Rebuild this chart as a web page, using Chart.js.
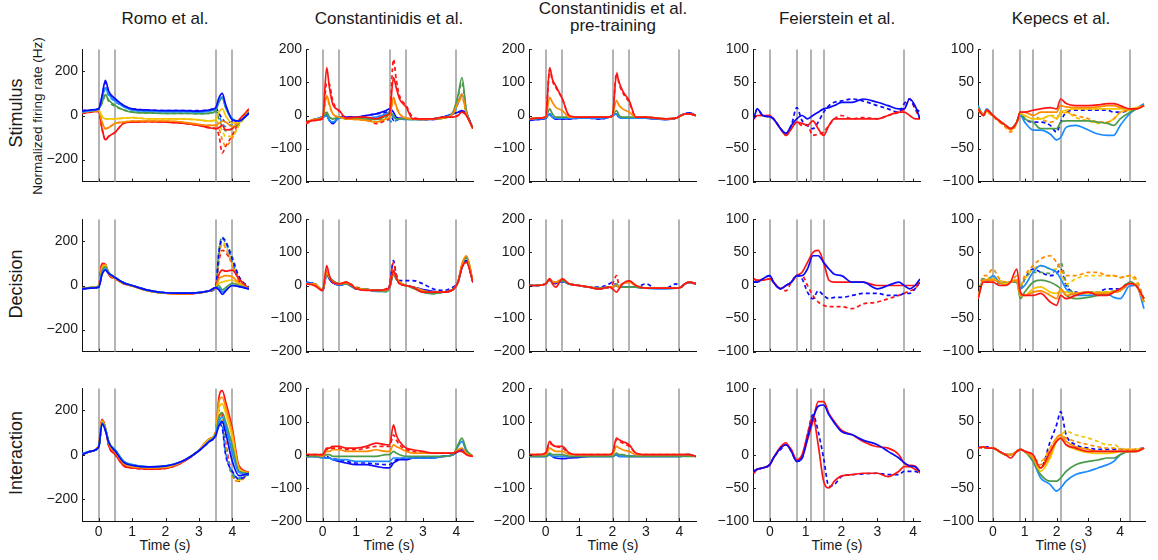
<!DOCTYPE html>
<html lang="en">
<head>
<meta charset="UTF-8" />
<title>Population responses by task</title>
<script src="https://cdn.jsdelivr.net/npm/chart.js"></script>
<style>
    body {
        margin: 0;
        background: #fff;
        font-family: 'Liberation Sans', Arial, sans-serif;
        color: #1a1a1a;
    }
    #figure {
        position: relative;
        width: 1158px;
        height: 560px;
        overflow: hidden;
    }
    .title {
        position: absolute;
        transform: translateX(-50%);
        font-size: 17px;
        line-height: 17px;
        text-align: center;
        white-space: nowrap;
    }
    .rowlabel {
        position: absolute;
        transform: translate(-50%, -50%) rotate(-90deg);
        font-size: 18px;
        white-space: nowrap;
    }
    .ylabel {
        position: absolute;
        transform: translate(-50%, -50%) rotate(-90deg);
        font-size: 13.5px;
        white-space: nowrap;
    }
    .xlabel {
        position: absolute;
        transform: translateX(-50%);
        font-size: 14px;
        line-height: 16px;
        white-space: nowrap;
    }
</style>
</head>
<body>
<div id="figure">
    <div class="title" style="left:165px;top:10px">Romo et al.</div>
    <div class="title" style="left:389px;top:10px">Constantinidis et al.</div>
    <div class="title" style="left:613px;top:0px">Constantinidis et al.<br>pre-training</div>
    <div class="title" style="left:837px;top:10px">Feierstein et al.</div>
    <div class="title" style="left:1061px;top:10px">Kepecs et al.</div>

    <div class="rowlabel" style="left:16px;top:113px">Stimulus</div>
    <div class="rowlabel" style="left:16px;top:284px">Decision</div>
    <div class="rowlabel" style="left:16px;top:453px">Interaction</div>
    <div class="ylabel" style="left:37px;top:116px">Normalized firing rate (Hz)</div>

    <div class="xlabel" style="left:165px;top:537px">Time (s)</div>
    <div class="xlabel" style="left:389px;top:537px">Time (s)</div>
    <div class="xlabel" style="left:613px;top:537px">Time (s)</div>
    <div class="xlabel" style="left:837px;top:537px">Time (s)</div>
    <div class="xlabel" style="left:1061px;top:537px">Time (s)</div>
</div>

<script>
    // ---- time grids (s) ----
    const romoTime = [-0.5, -0.25, 0, 0.1, 0.2, 0.3, 0.5, 0.75, 1, 1.5, 2, 2.5, 3, 3.3, 3.5, 3.6, 3.7, 3.8, 4, 4.2, 4.5];
    const constTime = [-0.5, -0.25, 0, 0.12, 0.2, 0.3, 0.5, 0.7, 1, 1.3, 1.6, 1.9, 2, 2.12, 2.2, 2.3, 2.5, 2.7, 3, 3.3, 3.6, 3.9, 4.05, 4.17, 4.3, 4.5];
    const feierTime = [-0.45, -0.35, -0.2, 0, 0.1, 0.3, 0.45, 0.6, 0.75, 0.9, 1.05, 1.2, 1.35, 1.5, 1.65, 1.8, 2, 2.3, 2.6, 3, 3.3, 3.6, 3.75, 3.9, 4.05, 4.19];
    const kepecsTime = [-0.47, -0.3, -0.2, 0, 0.2, 0.4, 0.55, 0.75, 0.86, 1, 1.26, 1.5, 1.8, 2, 2.13, 2.3, 2.6, 3, 3.3, 3.6, 3.8, 4, 4.31, 4.5, 4.75];

    // ---- Romo: blue, light blue, green, yellow, orange, red ----
    const romoStimSolid = [
        [20, 25, 30, 90, 160, 110, 75, 45, 30, 25, 22, 22, 20, 25, 35, 80, 100, 50, -20, -25, 10],
        [15, 22, 28, 80, 125, 95, 65, 40, 25, 20, 18, 18, 15, 20, 30, 65, 85, 40, -15, -25, 10],
        [20, 22, 30, 60, 95, 70, 45, 25, 15, 12, 10, 10, 8, 10, 20, 60, 80, 35, -15, -25, 15],
        [18, 20, 25, -5, -15, -15, -15, -12, -10, -15, -15, -15, -20, -25, -20, 15, 30, 0, -35, -30, 15],
        [15, 20, 22, -30, -60, -55, -35, -30, -25, -25, -25, -30, -40, -45, -45, -35, -25, -30, -50, -30, 20],
        [10, 15, 20, -60, -110, -95, -75, -35, -30, -28, -30, -35, -45, -55, -60, -55, -45, -65, -60, -20, 30]
    ];
    const romoStimDashed = [
        [22, 25, 30, 85, 150, 105, 70, 45, 30, 25, 22, 22, 22, 25, 35, 10, -15, -30, -30, -25, 10],
        [18, 22, 28, 75, 120, 90, 62, 40, 25, 20, 18, 18, 15, 20, 30, 0, -35, -50, -40, -30, 10],
        [18, 22, 30, 55, 90, 65, 40, 25, 15, 12, 10, 10, 8, 10, 20, -15, -50, -70, -60, -35, 15],
        [18, 20, 25, -5, -15, -15, -15, -12, -10, -15, -15, -15, -20, -25, -20, -40, -70, -95, -95, -45, 15],
        [15, 20, 22, -30, -60, -55, -35, -30, -25, -25, -25, -30, -40, -45, -45, -60, -110, -140, -100, -40, 20],
        [10, 15, 20, -60, -110, -95, -75, -35, -30, -28, -30, -35, -45, -55, -60, -90, -170, -140, -90, -30, 30]
    ];
    const romoDecSolid = [
        [-15, -12, -8, 50, 70, 55, 35, 12, 0, -22, -33, -35, -32, -25, -10, -20, -40, -25, 0, -5, -15],
        [-18, -12, -8, 55, 75, 55, 35, 12, 0, -22, -33, -35, -32, -25, -10, -10, -30, -20, 0, -5, -15],
        [-15, -10, -5, 65, 85, 60, 35, 12, 0, -23, -34, -35, -33, -25, -10, 0, -20, -10, 10, 0, -15],
        [-15, -10, -5, 75, 90, 55, 32, 10, 0, -24, -35, -36, -33, -25, -10, 10, 15, 20, 25, 5, -15],
        [-15, -10, -5, 85, 95, 55, 30, 10, -2, -25, -35, -37, -33, -25, -10, 30, 40, 45, 40, 10, -15],
        [-15, -10, -3, 100, 95, 50, 30, 8, -2, -25, -35, -38, -34, -25, -8, 50, 70, 65, 70, 30, -15]
    ];
    const romoDecDashed = [
        [-15, -12, -8, 55, 70, 55, 35, 12, 0, -22, -33, -35, -32, -25, -10, 150, 215, 200, 120, 40, -10],
        [-15, -12, -8, 55, 72, 55, 35, 12, 0, -22, -33, -35, -32, -25, -10, 150, 210, 195, 110, 35, -10],
        [-15, -10, -5, 65, 85, 60, 35, 12, 0, -23, -34, -35, -33, -25, -10, 160, 220, 200, 130, 40, -10],
        [-15, -10, -5, 75, 90, 55, 32, 10, 0, -24, -35, -36, -33, -25, -10, 140, 200, 180, 100, 30, -15],
        [-15, -10, -5, 85, 95, 55, 30, 10, -2, -25, -35, -37, -33, -25, -10, 130, 190, 170, 90, 25, -15],
        [-15, -10, -3, 100, 95, 50, 30, 8, -2, -25, -35, -38, -34, -25, -8, 110, 160, 150, 100, 20, -15]
    ];
    const romoIntSolid = [
        [0, 15, 35, 140, 110, 55, 15, -35, -48, -55, -52, -30, 18, 58, 85, 130, 150, 100, -30, -95, -85],
        [5, 15, 35, 140, 115, 55, 20, -30, -45, -55, -50, -30, 18, 60, 90, 150, 170, 130, 10, -80, -90],
        [0, 15, 35, 145, 120, 60, 20, -30, -45, -55, -52, -30, 18, 62, 95, 170, 190, 150, 40, -75, -85],
        [0, 15, 40, 150, 120, 55, 15, -35, -50, -58, -55, -30, 20, 68, 100, 210, 230, 190, 80, -65, -85],
        [0, 15, 40, 155, 120, 50, 10, -40, -55, -60, -58, -32, 20, 70, 100, 240, 260, 215, 100, -60, -80],
        [0, 15, 40, 160, 120, 40, 0, -50, -60, -65, -62, -35, 20, 70, 100, 260, 290, 240, 120, -50, -80]
    ];
    const romoIntDashed = [
        [0, 15, 35, 140, 110, 55, 15, -35, -48, -55, -52, -30, 18, 58, 85, 140, 120, 0, -75, -110, -90],
        [5, 15, 35, 140, 115, 55, 20, -30, -45, -55, -50, -30, 18, 60, 90, 150, 130, 10, -80, -105, -85],
        [0, 15, 35, 145, 120, 60, 20, -30, -45, -55, -52, -30, 18, 62, 95, 160, 140, 20, -90, -110, -85],
        [0, 15, 40, 150, 120, 55, 15, -35, -50, -58, -55, -30, 20, 68, 95, 170, 150, 30, -95, -115, -85],
        [0, 15, 40, 155, 120, 50, 10, -40, -55, -60, -58, -32, 20, 70, 100, 180, 160, 40, -100, -120, -80],
        [0, 15, 40, 160, 120, 40, 0, -50, -60, -65, -62, -35, 20, 70, 100, 200, 180, 60, -90, -120, -80]
    ];

    // ---- Constantinidis: red, orange, green, light blue, blue ----
    const constStimSolid = [
        [-20, -15, -8, 145, 85, 35, 15, -8, -5, -5, -10, 0, 5, 115, 85, 50, 25, -10, -10, -10, -5, -5, 0, 10, 0, -40],
        [-20, -12, -5, 60, 35, 5, -5, -10, -12, -15, -20, -10, -5, 55, 30, 5, -8, -10, -12, -10, -8, 5, 40, 65, 5, -40],
        [-20, -12, -5, 10, -5, -10, -5, -10, -10, -10, -12, 0, 10, 0, -10, -10, -10, -12, -12, -10, -8, 10, 60, 115, 15, -40],
        [-20, -12, -5, 0, -15, -20, -8, -8, -10, -8, -5, 5, 10, -5, -10, -10, -12, -12, -12, -10, -5, 5, 40, 65, 10, -40],
        [-20, -12, -5, 0, -15, -25, -5, -5, -5, 0, 5, 15, 20, 10, -5, -8, -10, -10, -12, -12, -5, 5, 10, 15, 5, -40]
    ];
    const constStimDashed = [
        [-25, -15, -10, 100, 95, 45, 12, -5, -5, -5, -25, -15, -5, 170, 110, 60, 30, -5, -10, -10, -5, -5, 0, 10, 0, -40],
        [-20, -12, -5, 55, 30, 5, -5, -10, -12, -15, -20, -12, -5, 45, 25, 5, -8, -10, -12, -10, -8, 5, 35, 55, 5, -40],
        [-20, -12, -5, 5, -5, -10, -5, -10, -10, -10, -12, -5, 5, -5, -10, -10, -10, -12, -12, -10, -8, 10, 55, 100, 15, -40],
        [-20, -12, -5, 0, -15, -20, -8, -8, -10, -8, -5, 0, -15, -20, -15, -10, -12, -12, -12, -10, -5, 5, 35, 60, 10, -40],
        [-20, -12, -5, 0, -15, -20, -5, -5, -5, 0, 5, 10, 15, -15, -15, -10, -10, -10, -12, -12, -5, 5, 10, 12, 5, -40]
    ];
    const constDecSolid = [
        [5, 0, -15, 60, 30, 10, 5, 10, -10, -15, -15, -12, -5, 45, 25, 5, 0, -5, -20, -20, -20, -12, 10, 55, 70, 10],
        [5, 5, -15, 40, 25, 12, 5, 8, -8, -12, -15, -15, -5, 40, 25, 10, 0, -5, -15, -20, -20, -12, 10, 65, 90, 12],
        [5, 5, -15, 35, 25, 15, 5, 5, -8, -12, -15, -18, -5, 35, 20, 10, 0, -8, -20, -25, -20, -12, 10, 60, 85, 10],
        [8, 5, -15, 35, 25, 10, 2, 5, -10, -12, -18, -18, -8, 35, 22, 8, 0, -5, -15, -20, -20, -12, 10, 60, 85, 10],
        [10, 5, -15, 35, 20, 8, 2, 5, -10, -12, -15, -15, -5, 35, 22, 8, 0, -5, -12, -18, -20, -12, 10, 55, 75, 10]
    ];
    const constDecDashed = [
        [5, 0, -15, 45, 25, 10, 5, 10, -5, -12, -15, -10, 0, 70, 30, 5, 0, -5, -15, -20, -20, -12, 10, 55, 75, 10],
        [5, 5, -15, 40, 25, 12, 5, 8, -8, -12, -15, -15, -5, 45, 25, 10, 0, -5, -15, -20, -20, -12, 10, 65, 88, 12],
        [5, 5, -15, 35, 25, 12, 5, 5, -8, -12, -15, -18, -5, 40, 20, 10, 0, -8, -20, -25, -20, -12, 10, 60, 85, 10],
        [5, 5, -15, 30, 25, 10, 2, 5, -10, -12, -18, -18, -8, 40, 22, 8, 0, -5, -15, -20, -20, -12, 10, 60, 85, 10],
        [5, 5, -15, 35, 20, 8, 2, 5, -10, -12, -15, -15, 0, 75, 35, 15, 15, 15, 5, -10, -15, -5, 10, 55, 75, 10]
    ];
    const constIntSolid = [
        [0, 0, 0, 20, 20, 25, 25, 20, 20, 25, 35, 30, 30, 90, 60, 40, 20, 15, 10, 5, 5, 5, 10, 10, 0, -5],
        [0, 0, -5, 10, 10, 15, 15, 10, 10, 10, 15, 10, 10, 30, 25, 20, 10, 5, 5, 5, 5, 5, 15, 20, 5, -5],
        [-5, -5, -5, 0, 0, -5, -5, -5, -5, -5, -5, 0, 0, 10, 5, 0, -5, -5, -5, -5, -5, 0, 30, 50, 15, -5],
        [-5, -5, -10, -10, -10, -15, -15, -15, -20, -20, -20, -20, -20, -10, -10, -10, -10, -10, -10, -10, -5, 0, 25, 40, 10, -5],
        [-5, -5, -5, -10, -10, -15, -20, -25, -30, -30, -35, -40, -40, -25, -20, -15, -15, -10, -10, -10, -5, 0, 10, 15, 5, -5]
    ];
    const constIntDashed = [
        [0, 0, 0, 15, 20, 20, 20, 15, 15, 20, 25, 25, 25, 60, 45, 30, 15, 10, 5, 5, 5, 5, 10, 10, 0, -5],
        [-5, -5, -5, -5, -10, -12, -15, -20, -25, -25, -28, -30, -30, -20, -15, -12, -12, -10, -8, -8, -5, 0, 10, 12, 5, -5]
    ];

    // ---- Constantinidis pre-training: red, orange, green, light blue, blue ----
    const preStimSolid = [
        [-10, -8, -5, 145, 110, 90, 50, 0, -5, -5, -5, -5, 0, 125, 100, 75, 45, -5, -5, -8, -10, -8, 0, 5, 5, 0],
        [-10, -8, -5, 55, 40, 25, 15, -5, -5, -5, -5, -5, 0, 45, 30, 20, 10, -5, -5, -8, -10, -8, 0, 5, 5, 0],
        [-10, -8, -5, 20, 5, -5, -5, -5, -5, -5, -5, -5, 0, 15, 0, -5, -5, -5, -5, -8, -10, -8, 0, 5, 5, 0],
        [-12, -10, -8, 5, -5, -8, -8, -8, -8, -8, -8, -5, 0, 5, -5, -8, -8, -8, -8, -10, -12, -8, 0, 5, 5, 0],
        [-15, -12, -8, 5, -5, -10, -10, -10, -8, -8, -10, -5, 0, 5, -5, -8, -8, -8, -8, -10, -12, -8, 0, 5, 8, 0]
    ];
    const preStimDashed = [
        [-10, -8, -5, 140, 105, 85, 50, 0, -5, -5, -5, -5, 0, 130, 95, 70, 40, -5, -5, -8, -10, -8, 0, 5, 5, 0],
        [-12, -12, -8, 3, -5, -10, -10, -10, -8, -8, -10, -5, 0, 3, -5, -8, -8, -8, -8, -10, -12, -8, 0, 5, 8, 0]
    ];
    const preDecSolid = [
        [0, 0, 5, 20, 5, -5, 20, 5, 0, -5, -10, -5, -10, -20, -10, 5, 15, 0, -8, -8, -8, -8, -5, 5, 10, 5],
        [0, 0, 5, 20, 12, 10, 20, 5, 0, -5, -10, -5, -5, 0, -5, 5, 10, 0, -8, -8, -8, -8, -5, 5, 10, 5],
        [0, 0, 5, 18, 12, 10, 15, 5, 0, -5, -8, -5, -5, 5, -5, -5, -5, -5, -8, -8, -8, -8, -5, 5, 10, 5],
        [0, 0, 5, 15, 12, 10, 12, 5, 0, -5, -8, -5, -5, 0, -5, -5, -5, -5, -8, -10, -10, -8, -5, 5, 8, 5],
        [0, 0, 5, 18, 10, 8, 12, 5, 0, -5, -10, -5, -5, 0, -5, -5, -5, -5, -8, -8, -8, -8, -5, 5, 10, 5]
    ];
    const preDecDashed = [
        [0, 0, 5, 20, 10, 5, 15, 5, 0, -5, -10, -5, 5, 30, 0, 5, 10, 0, -8, -8, -8, -8, -5, 5, 10, 5],
        [0, 0, 5, 18, 10, 8, 12, 5, 0, -5, -5, 5, 10, 0, -5, -5, -5, -5, 5, -8, -8, 5, -5, 5, 10, 5]
    ];
    const preIntSolid = [
        [0, 0, 5, 40, 30, 25, 25, 5, 0, 0, 0, 0, 5, 50, 45, 40, 30, 5, 0, 0, 0, 0, 0, 0, 0, -5],
        [0, 0, 0, 20, 15, 10, 10, 0, 0, 0, 0, 0, 0, 25, 20, 15, 10, 0, 0, 0, 0, 0, 0, 0, 0, -5],
        [-5, -5, -5, 5, 0, 0, 0, -5, -5, -5, -5, -5, -5, 5, 0, 0, -5, -5, -5, -5, -5, -5, -5, -5, -5, -5],
        [-5, -5, -5, 0, -5, -5, -5, -5, -5, -5, -5, -5, -5, 0, -5, -5, -5, -5, -5, -5, -5, -5, -5, 0, 0, -5],
        [-5, -5, -5, 0, -5, -10, -12, -10, -8, -5, -5, -5, -5, 0, -5, -5, -5, -5, -5, -5, -5, -5, -5, 0, 0, -5]
    ];
    const preIntDashed = [
        [0, 0, 5, 35, 30, 25, 20, 5, 0, 0, 0, 0, 5, 45, 40, 35, 25, 5, 0, 0, 0, 0, 0, 0, 0, -5]
    ];

    // ---- Feierstein: blue, red ----
    const feierStimSolid = [
        [-5, 10, 0, -2, -5, -20, -27, -15, -5, 0, -5, 0, 5, 10, 12, 15, 20, 20, 25, 20, 15, 10, 10, 25, 15, -5],
        [-5, 0, 0, 0, -5, -20, -30, -20, -10, -12, -15, -8, -20, -30, -15, -5, -5, -5, -5, -5, 0, 5, 5, 0, -5, -5]
    ];
    const feierStimDashed = [
        [-5, 10, 0, -2, -5, -20, -27, -15, 12, -8, -15, -20, -10, 5, 15, 20, 22, 25, 22, 15, 10, 5, 18, 25, 12, 5],
        [-5, 0, 0, 0, -5, -20, -30, -20, -10, -15, -15, -30, -28, -25, -15, -5, 0, -5, -3, -5, 0, 5, 10, 25, 10, -5]
    ];
    const feierDecSolid = [
        [5, 5, 10, 15, 5, -5, 0, 5, 15, 15, 25, 45, 45, 35, 25, 17, 15, 5, 5, -5, 0, 5, 0, -5, 0, 10],
        [10, 8, 8, 10, 5, -5, 0, 5, 15, 20, 35, 50, 53, 35, 8, 5, 5, 5, 5, 0, 0, 0, 0, 0, 0, 5]
    ];
    const feierDecDashed = [
        [5, 5, 10, 15, 5, -5, 0, 5, 15, 10, -10, -20, -8, -15, -20, -18, -18, -15, -12, -12, -15, -15, -12, -12, -5, 5],
        [10, 8, 8, 10, 5, -5, -8, 5, 15, 15, 0, -15, -25, -30, -32, -32, -32, -35, -28, -25, -20, -15, -12, -8, -5, 5]
    ];
    // interaction: blue, red (upper), red (lower)
    const feierIntSolid = [
        [-25, -22, -20, -15, -5, 10, 15, 5, -10, -5, 25, 55, 73, 75, 60, 48, 35, 30, 22, 15, 5, -5, -12, -17, -18, -25],
        [-28, -22, -20, -15, -5, 10, 15, 8, -8, -3, 22, 50, 80, 80, 62, 50, 37, 30, 20, 12, 10, 0, -13, -16, -17, -28],
        [-28, -22, -20, -15, -5, 12, 18, 5, -8, 0, 30, 57, 15, -40, -50, -40, -32, -30, -28, -28, -33, -25, -18, -18, -22, -25]
    ];
    const feierIntDashed = [
        [-25, -22, -20, -15, -5, 8, 15, 5, -10, -5, 30, 60, 35, -5, -48, -45, -33, -30, -29, -28, -30, -30, -25, -25, -25, -28]
    ];

    // ---- Kepecs: solid red, orange, yellow, green, light blue; dashed vary by row ----
    const kepecsStimSolid = [
        [10, 0, 8, 0, -8, -15, -20, -10, 5, 5, 8, 10, 12, 10, 25, 18, 15, 15, 16, 18, 18, 15, 10, 10, 15],
        [10, 2, 8, 0, -8, -15, -22, -10, 5, 5, 0, 5, 5, 5, 15, 13, 12, 12, 13, 15, 15, 12, 10, 10, 15],
        [10, 2, 6, 0, -8, -15, -20, -10, 3, 0, -5, -5, 0, -5, 5, 8, 10, 10, 10, 10, 10, 10, 10, 12, 15],
        [12, 0, 8, 0, -8, -15, -20, -10, 3, -5, -10, -20, -20, -20, -10, -8, -8, -8, -10, -12, -15, -5, 5, 10, 15],
        [15, 2, 10, 0, -8, -15, -20, -10, 0, -10, -22, -22, -28, -37, -33, -18, -15, -22, -28, -30, -30, -15, 3, 10, 18]
    ];
    // dashed: orange, yellow, blue
    const kepecsStimDashed = [
        [8, 0, 5, -2, -10, -18, -25, -12, 5, 5, 0, -5, -10, -5, 5, 5, 0, -5, -10, -10, -5, 5, 8, 10, 15],
        [10, 0, 8, 0, -8, -15, -20, -10, 5, 0, -5, -5, 0, 0, 0, 5, -3, -8, -12, -10, -5, 5, 8, 10, 15],
        [10, 0, 8, 0, -8, -15, -20, -10, 5, -5, -10, -10, -15, -25, -10, 5, 8, 8, 8, 8, 5, 5, 8, 10, 15]
    ];
    const kepecsDecSolid = [
        [-20, 5, 5, 5, 0, 0, 5, 25, -10, -15, -15, -12, -25, -30, -15, -20, -15, -10, -15, -15, -10, -5, 3, 0, -20],
        [-20, 8, 8, 8, 5, 0, 5, 8, -15, -15, -10, -8, -15, -20, -5, -15, -12, -10, -12, -12, -10, -8, 3, 0, -25],
        [-20, 8, 8, 10, 5, 3, 5, 8, -15, -15, -5, -2, -10, -12, -8, -10, -12, -12, -10, -10, -9, -8, 3, 0, -25],
        [-20, 10, 8, 10, 5, 3, 5, 5, -20, -10, 5, 8, 5, 0, -5, -15, -20, -18, -15, -12, -10, -8, 5, 0, -25],
        [-20, 10, 5, 15, 5, 3, 5, 5, -5, 0, 20, 30, 25, 20, 10, -5, -15, -15, -14, -13, -18, -20, 0, 0, -35]
    ];
    // dashed: orange, yellow, green, blue
    const kepecsDecDashed = [
        [-15, 15, 15, 25, 10, 5, 5, 15, 0, 15, 30, 40, 45, 35, 25, 15, 15, 20, 20, 15, 15, 12, 15, 10, -20],
        [-15, 10, 10, 15, 8, 5, 5, 10, 0, 10, 25, 30, 25, 25, 20, 2, 10, 15, 15, 15, 15, 12, 15, 5, -20],
        [-15, 10, 5, 10, 3, 3, 5, 5, -5, 10, 20, 20, 18, 25, 35, 5, -12, -10, -10, -10, -8, -5, 5, 0, -25],
        [-15, 10, 5, 10, 3, 3, 5, 5, -5, 10, 25, 20, 15, 18, 25, 0, -10, -12, -10, -5, -5, -5, 0, 0, -25]
    ];
    const kepecsIntSolid = [
        [10, 12, 10, 10, 5, 0, -5, 5, 8, 5, 0, -20, 5, 20, 25, 15, 10, 5, 5, 5, 5, 5, 5, 5, 10],
        [10, 12, 10, 10, 5, 0, 0, 5, 8, 5, -5, -20, 0, 25, 30, 20, 12, 8, 5, 5, 5, 5, 5, 5, 10],
        [10, 12, 10, 10, 5, 0, 0, 5, 8, 5, -5, -25, -5, 20, 25, 15, 8, 3, 2, 2, 3, 5, 5, 5, 10],
        [10, 12, 10, 10, 5, 0, 0, 5, 8, 5, -10, -30, -40, -40, -35, -25, -15, -10, -8, -5, -5, 0, 5, 5, 10],
        [10, 12, 10, 10, 5, 0, 0, 5, 8, 5, -10, -35, -45, -55, -50, -40, -30, -25, -20, -15, -10, 0, 5, 5, 10]
    ];
    // dashed: orange, yellow, blue
    const kepecsIntDashed = [
        [10, 12, 10, 10, 5, 0, 0, 5, 8, 5, -5, -15, 10, 25, 30, 25, 20, 15, 12, 10, 10, 8, 8, 8, 10],
        [10, 12, 10, 10, 5, 0, 0, 5, 8, 5, -5, -10, 10, 25, 30, 35, 30, 25, 20, 15, 15, 10, 8, 8, 10],
        [12, 10, 12, 10, 5, 0, 0, 5, 8, 5, -5, -20, 20, 45, 65, 30, 15, 10, 8, 8, 8, 8, 5, 8, 10]
    ];

    // ---- axes ----
    const xTickValues = [0, 1, 2, 3, 4];
    const yTicksRomo = [-200, 0, 200];
    const yTicksConst = [-200, -100, 0, 100, 200];
    const yTicksSmall = [-100, -50, 0, 50, 100];
    // task event times (s), drawn as grey verticals
    const eventsRomo = [0, 0.5, 3.5, 4];
    const eventsConst = [0, 0.5, 2, 2.5, 4];
    const eventsFeier = [0, 0.75, 1.15, 1.5, 3.73];
    const eventsKepecs = [0, 0.86, 1.26, 2.13, 4.31];

    const COL = {
        blue: '#0a0aff',
        lightblue: '#1a8cff',
        green: '#4b9b4b',
        yellow: '#f2c500',
        orange: '#ff8a00',
        red: '#ff1414'
    };
    const romoColours = [COL.blue, COL.lightblue, COL.green, COL.yellow, COL.orange, COL.red];
    const constColours = [COL.red, COL.orange, COL.green, COL.lightblue, COL.blue];
    const kepecsColours = [COL.red, COL.orange, COL.yellow, COL.green, COL.lightblue];

    // plot box geometry
    const colLeft = [82, 306, 529, 753, 978];
    const rowTop = [47, 217, 386];
    const PLOT_W = 167, PLOT_H = 135;
    const GUTTER = 50, PAD_TOP = 10, PAD_RIGHT = 8;

    const columns = [
        { x: [-0.5, 4.5], y: [-300, 300], yTicks: yTicksRomo, events: eventsRomo, time: romoTime },
        { x: [-0.5, 4.5], y: [-200, 200], yTicks: yTicksConst, events: eventsConst, time: constTime },
        { x: [-0.5, 4.5], y: [-200, 200], yTicks: yTicksConst, events: eventsConst, time: constTime },
        { x: [-0.47, 4.19], y: [-100, 100], yTicks: yTicksSmall, events: eventsFeier, time: feierTime },
        { x: [-0.47, 4.78], y: [-100, 100], yTicks: yTicksSmall, events: eventsKepecs, time: kepecsTime }
    ];

    const panels = [
        { col: 0, row: 0, solid: romoStimSolid, solidC: romoColours, dashed: romoStimDashed, dashedC: romoColours },
        { col: 0, row: 1, solid: romoDecSolid, solidC: romoColours, dashed: romoDecDashed, dashedC: romoColours },
        { col: 0, row: 2, solid: romoIntSolid, solidC: romoColours, dashed: romoIntDashed, dashedC: romoColours },
        { col: 1, row: 0, solid: constStimSolid, solidC: constColours, dashed: constStimDashed, dashedC: constColours },
        { col: 1, row: 1, solid: constDecSolid, solidC: constColours, dashed: constDecDashed, dashedC: constColours },
        { col: 1, row: 2, solid: constIntSolid, solidC: constColours, dashed: constIntDashed, dashedC: [COL.red, COL.blue] },
        { col: 2, row: 0, solid: preStimSolid, solidC: constColours, dashed: preStimDashed, dashedC: [COL.red, COL.blue] },
        { col: 2, row: 1, solid: preDecSolid, solidC: constColours, dashed: preDecDashed, dashedC: [COL.red, COL.blue] },
        { col: 2, row: 2, solid: preIntSolid, solidC: constColours, dashed: preIntDashed, dashedC: [COL.red] },
        { col: 3, row: 0, solid: feierStimSolid, solidC: [COL.blue, COL.red], dashed: feierStimDashed, dashedC: [COL.blue, COL.red] },
        { col: 3, row: 1, solid: feierDecSolid, solidC: [COL.blue, COL.red], dashed: feierDecDashed, dashedC: [COL.blue, COL.red] },
        { col: 3, row: 2, solid: feierIntSolid, solidC: [COL.blue, COL.red, COL.red], dashed: feierIntDashed, dashedC: [COL.blue] },
        { col: 4, row: 0, solid: kepecsStimSolid, solidC: kepecsColours, dashed: kepecsStimDashed, dashedC: [COL.orange, COL.yellow, COL.blue] },
        { col: 4, row: 1, solid: kepecsDecSolid, solidC: kepecsColours, dashed: kepecsDecDashed, dashedC: [COL.orange, COL.yellow, COL.green, COL.blue] },
        { col: 4, row: 2, solid: kepecsIntSolid, solidC: kepecsColours, dashed: kepecsIntDashed, dashedC: [COL.orange, COL.yellow, COL.blue] }
    ];

    const minus = v => (v < 0 ? '\u2212' + Math.abs(v) : String(v));

    // grey event lines under the traces, short inward ticks on both axes
    const panelDecor = {
        id: 'panelDecor',
        beforeDatasetsDraw(chart, args, opts) {
            const { ctx, chartArea: a, scales: { x } } = chart;
            ctx.save();
            ctx.strokeStyle = '#b4b4b4';
            ctx.lineWidth = 2;
            opts.events.forEach(t => {
                const px = Math.round(x.getPixelForValue(t));
                ctx.beginPath();
                ctx.moveTo(px, a.top);
                ctx.lineTo(px, a.bottom);
                ctx.stroke();
            });
            ctx.restore();
        },
        afterDraw(chart) {
            const { ctx, chartArea: a, scales: { x, y } } = chart;
            ctx.save();
            ctx.strokeStyle = '#222';
            ctx.lineWidth = 1;
            x.ticks.forEach(t => {
                const px = Math.round(x.getPixelForValue(t.value)) + 0.5;
                ctx.beginPath();
                ctx.moveTo(px, a.bottom);
                ctx.lineTo(px, a.bottom - 3);
                ctx.stroke();
            });
            y.ticks.forEach(t => {
                const py = Math.round(y.getPixelForValue(t.value)) + 0.5;
                ctx.beginPath();
                ctx.moveTo(a.left, py);
                ctx.lineTo(a.left + 3, py);
                ctx.stroke();
            });
            ctx.restore();
        }
    };

    Chart.defaults.font.family = "'Liberation Sans', Arial, sans-serif";
    Chart.defaults.font.size = 14;
    Chart.defaults.color = '#1a1a1a';

    function trace(time, values, colour, dashed) {
        return {
            data: values.map((v, i) => ({ x: time[i], y: v })),
            borderColor: colour,
            borderWidth: 1.7,
            borderDash: dashed ? [4, 3] : [],
            pointRadius: 0,
            fill: false,
            cubicInterpolationMode: 'monotone'
        };
    }

    function drawPanel(p) {
        const c = columns[p.col];
        const bottomRoom = p.row === 2 ? 24 : 12;
        const w = GUTTER + PLOT_W + PAD_RIGHT;
        const h = PAD_TOP + PLOT_H + bottomRoom;

        const canvas = document.createElement('canvas');
        canvas.width = w;
        canvas.height = h;
        canvas.style.cssText = `position:absolute;left:${colLeft[p.col] - GUTTER}px;top:${rowTop[p.row] - PAD_TOP}px;width:${w}px;height:${h}px`;
        document.getElementById('figure').appendChild(canvas);

        // solid traces go on top of the dashed ones
        const datasets = [];
        p.solid.forEach((vals, i) => datasets.push(Object.assign(trace(c.time, vals, p.solidC[i], false), { order: 0 })));
        p.dashed.forEach((vals, i) => datasets.push(Object.assign(trace(c.time, vals, p.dashedC[i], true), { order: 1 })));

        new Chart(canvas, {
            type: 'line',
            data: { datasets },
            plugins: [panelDecor],
            options: {
                responsive: false,
                animation: false,
                devicePixelRatio: 1,
                layout: { padding: { top: PAD_TOP, right: PAD_RIGHT, left: 0, bottom: 0 } },
                plugins: {
                    legend: { display: false },
                    tooltip: { enabled: false },
                    panelDecor: { events: c.events }
                },
                scales: {
                    x: {
                        type: 'linear',
                        min: c.x[0],
                        max: c.x[1],
                        afterBuildTicks: s => { s.ticks = xTickValues.map(v => ({ value: v })); },
                        afterFit: s => { s.height = bottomRoom; },
                        grid: { display: false, drawTicks: false },
                        border: { color: '#111', width: 1 },
                        ticks: { display: p.row === 2, padding: 3, maxRotation: 0, autoSkip: false, callback: minus }
                    },
                    y: {
                        min: c.y[0],
                        max: c.y[1],
                        afterBuildTicks: s => { s.ticks = c.yTicks.map(v => ({ value: v })); },
                        afterFit: s => { s.width = GUTTER; },
                        grid: { display: false, drawTicks: false },
                        border: { color: '#111', width: 1 },
                        ticks: { padding: 4, autoSkip: false, callback: minus }
                    }
                }
            }
        });
    }

    panels.forEach(drawPanel);
</script>
</body>
</html>
